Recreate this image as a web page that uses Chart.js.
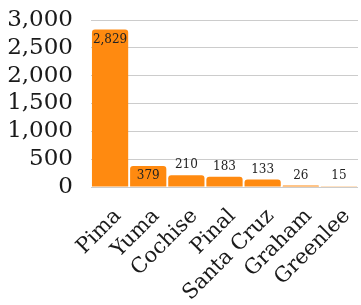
<!DOCTYPE html>
<html>
<head>
<meta charset="utf-8">
<script src="https://cdn.jsdelivr.net/npm/chart.js@4/dist/chart.umd.min.js"></script>
<style>
  html, body { margin: 0; padding: 0; background: #fff; }
  #wrap { width: 361px; height: 305px; }
</style>
</head>
<body>
<div id="wrap"><canvas id="countyChart"></canvas></div>
<script>
// Chart data
const counties = ["Pima", "Yuma", "Cochise", "Pinal", "Santa Cruz", "Graham", "Greenlee"];
const counts = [2829, 379, 210, 183, 133, 26, 15];
const yTicks = [0, 500, 1000, 1500, 2000, 2500, 3000];

const serif = "'DejaVu Serif', serif";

// Value labels: inside the bar top for tall bars, above for short ones
const valueLabels = {
    id: "valueLabels",
    afterDatasetsDraw(chart) {
        const ctx = chart.ctx;
        const meta = chart.getDatasetMeta(0);
        ctx.save();
        ctx.font = "12px " + serif;
        ctx.fillStyle = "#222";
        ctx.textAlign = "center";
        ctx.textBaseline = "middle";
        meta.data.forEach((bar, i) => {
            const text = counts[i].toLocaleString("en-US");
            const inside = (bar.base - bar.y) > 18;
            const y = inside ? bar.y + 10 : bar.y - 10;
            ctx.fillText(text, bar.x, y);
        });
        ctx.restore();
    }
};

const ctx = document.getElementById("countyChart").getContext("2d");
new Chart(ctx, {
    type: "bar",
    data: {
        labels: counties,
        datasets: [{
            data: counts,
            backgroundColor: "#ff8a10",
            borderRadius: { topLeft: 3, topRight: 3 },
            borderSkipped: "bottom",
            barPercentage: 0.95,
            categoryPercentage: 1.0
        }]
    },
    options: {
        responsive: true,
        maintainAspectRatio: false,
        animation: false,
        layout: { padding: { top: 20, right: 3, left: 0, bottom: 0 } },
        plugins: {
            legend: { display: false },
            tooltip: { enabled: false }
        },
        scales: {
            x: {
                grid: { display: false },
                border: { display: false },
                afterFit(axis) {
                    axis.height = 118;
                    axis.paddingLeft = 0;
                    axis.paddingRight = 0;
                },
                ticks: {
                    color: "#1a1a1a",
                    font: { family: serif, size: 21 },
                    autoSkip: false,
                    maxRotation: 45,
                    minRotation: 45,
                    labelOffset: 8,
                    padding: 9
                }
            },
            y: {
                min: 0,
                max: 3000,
                afterBuildTicks(axis) {
                    axis.ticks = yTicks.map(v => ({ value: v }));
                },
                afterFit(axis) {
                    axis.width = 91;
                    axis.paddingTop = 0;
                    axis.paddingBottom = 0;
                },
                grid: { color: "#cccccc", drawTicks: false },
                border: { display: false },
                ticks: {
                    color: "#1a1a1a",
                    font: { family: serif, size: 23 },
                    autoSkip: false,
                    padding: 18,
                    callback: v => v.toLocaleString("en-US")
                }
            }
        }
    },
    plugins: [valueLabels]
});
</script>
</body>
</html>
